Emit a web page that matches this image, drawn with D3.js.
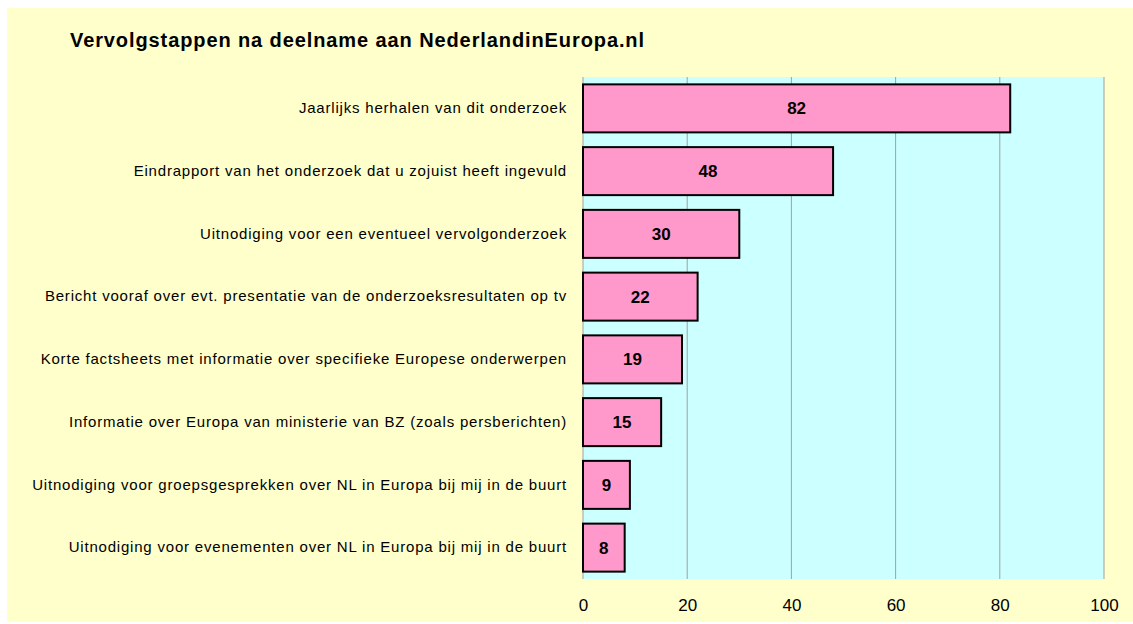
<!DOCTYPE html>
<html>
<head>
<meta charset="utf-8">
<script src="https://cdn.jsdelivr.net/npm/d3@7"></script>
<style>
  body { margin: 0; background: #fff; }
  svg { display: block; font-family: "Liberation Sans", Arial, sans-serif; }
</style>
</head>
<body>
<svg></svg>
<script>
const width = 1133;
const height = 624;

const title = "Vervolgstappen na deelname aan NederlandinEuropa.nl";
const categories = [
    "Jaarlijks herhalen van dit onderzoek",
    "Eindrapport van het onderzoek dat u zojuist heeft ingevuld",
    "Uitnodiging voor een eventueel vervolgonderzoek",
    "Bericht vooraf over evt. presentatie van de onderzoeksresultaten op tv",
    "Korte factsheets met informatie over specifieke Europese onderwerpen",
    "Informatie over Europa van ministerie van BZ (zoals persberichten)",
    "Uitnodiging voor groepsgesprekken over NL in Europa bij mij in de buurt",
    "Uitnodiging voor evenementen over NL in Europa bij mij in de buurt"
];
const values = [82, 48, 30, 22, 19, 15, 9, 8];
const ticks = [0, 20, 40, 60, 80, 100];

const margin = {top: 77, right: 29, bottom: 45, left: 583};

const svg = d3.select('svg')
    .attr('width', width).attr('height', height);

// chart background
svg.append('rect')
    .attr('x', 7).attr('y', 8)
    .attr('width', width - 7).attr('height', height - 10)
    .attr('fill', '#ffffcc');

const x = d3.scaleLinear()
    .domain([0, 100])
    .range([margin.left, width - margin.right]);

const y = d3.scaleBand()
    .domain(categories)
    .range([margin.top, height - margin.bottom])
    .paddingInner(0.235)
    .paddingOuter(0.1175);

// plot area
svg.append('rect')
    .attr('x', x(0)).attr('y', margin.top)
    .attr('width', x(100) - x(0))
    .attr('height', height - margin.bottom - margin.top)
    .attr('fill', '#ccffff');

// gridlines
svg.append('g')
    .selectAll('line')
    .data(ticks)
    .enter().append('line')
    .attr('x1', d => x(d)).attr('x2', d => x(d))
    .attr('y1', margin.top).attr('y2', height - margin.bottom)
    .attr('stroke', '#a0a0a0')
    .attr('stroke-width', 1);

// x axis labels
const xAxis = svg.append('g')
    .attr('transform', `translate(0,${height - margin.bottom})`)
    .call(d3.axisBottom(x).tickValues(ticks).tickSize(0).tickPadding(20));
xAxis.select('.domain').remove();
xAxis.selectAll('text')
    .style('font-family', '"Liberation Sans", Arial, sans-serif')
    .style('font-size', '17px')
    .attr('fill', '#000');

// category labels
const yAxis = svg.append('g')
    .attr('transform', `translate(${x(0) - 16},0)`)
    .call(d3.axisLeft(y).tickSize(0).tickPadding(0));
yAxis.select('.domain').remove();
yAxis.selectAll('text')
    .style('font-family', '"Liberation Sans", Arial, sans-serif')
    .style('font-size', '15px')
    .style('letter-spacing', '0.8px')
    .attr('fill', '#000');

// bars
svg.append('g')
    .selectAll('rect')
    .data(values)
    .enter().append('rect')
    .attr('x', x(0))
    .attr('y', (d, i) => y(categories[i]))
    .attr('width', d => x(d) - x(0))
    .attr('height', y.bandwidth())
    .attr('fill', '#ff99cc')
    .attr('stroke', '#000')
    .attr('stroke-width', 2);

// value labels
svg.append('g')
    .selectAll('text')
    .data(values)
    .enter().append('text')
    .attr('x', d => (x(0) + x(d)) / 2)
    .attr('y', (d, i) => y(categories[i]) + y.bandwidth() / 2)
    .attr('dy', '0.36em')
    .attr('text-anchor', 'middle')
    .style('font-size', '17px')
    .style('font-weight', 'bold')
    .text(d => d);

// title
svg.append('text')
    .attr('x', 70).attr('y', 47)
    .style('font-size', '20px')
    .style('font-weight', 'bold')
    .style('letter-spacing', '0.9px')
    .text(title);
</script>
</body>
</html>
